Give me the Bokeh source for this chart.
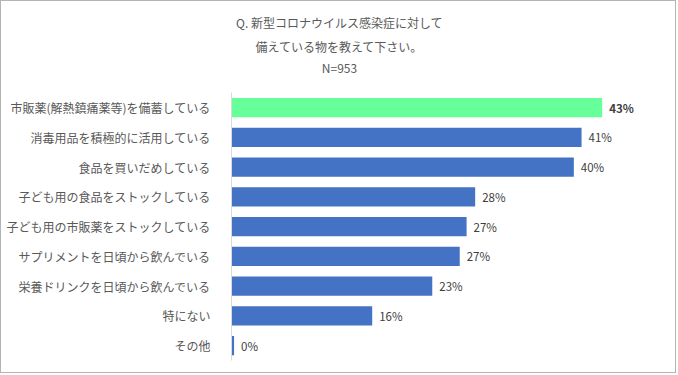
from bokeh.plotting import figure
from bokeh.models import Range1d, Label, ColumnDataSource, FixedTicker
from bokeh.embed import file_html
from bokeh.resources import INLINE
from bokeh.core.properties import value

categories = [
    "市販薬(解熱鎮痛薬等)を備蓄している",
    "消毒用品を積極的に活用している",
    "食品を買いだめしている",
    "子ども用の食品をストックしている",
    "子ども用の市販薬をストックしている",
    "サプリメントを日頃から飲んでいる",
    "栄養ドリンクを日頃から飲んでいる",
    "特にない",
    "その他",
]
values = [43.2, 40.8, 39.9, 28.4, 27.4, 26.6, 23.4, 16.4, 0.3]
labels = ["43%", "41%", "40%", "28%", "27%", "27%", "23%", "16%", "0%"]
title_lines = ["Q. 新型コロナウイルス感染症に対して", "備えている物を教えて下さい。", "N=953"]

FONT = "Noto Sans CJK JP"
n = len(categories)
ypos = [-i for i in range(n)]
colors = ["#66FF99"] + ["#4472C4"] * (n - 1)
weights = ["bold"] + ["normal"] * (n - 1)

src = ColumnDataSource(dict(y=ypos, val=values, lab=labels, color=colors, weight=weights))

# layout constants (pixels)
W, H = 676, 373
LEFT, RIGHT, TOP, BOTTOM = 230, 16, 0, 14
XSCALE = 8.58      # px per percent
YSCALE = 29.75     # px per row
frame_w = W - LEFT - RIGHT
frame_h = H - TOP - BOTTOM
y_start = -(n - 1) - 0.5
y_end = y_start + frame_h / YSCALE

p = figure(
    width=W, height=H,
    x_range=Range1d(0, frame_w / XSCALE),
    y_range=Range1d(y_start, y_end),
    output_backend="svg", toolbar_location=None,
    min_border_left=LEFT, min_border_right=RIGHT, min_border_top=TOP, min_border_bottom=BOTTOM,
)
p.styles = {"border": "1px solid #b4b4b4"}
p.outline_line_color = None
p.grid.visible = False
p.xaxis.visible = False

p.hbar(y="y", right="val", left=0, height=0.64, fill_color="color", line_color=None, source=src)
p.text(x="val", y="y", text="lab", source=src, x_offset=7, text_align="left",
       text_baseline="middle", text_font=value(FONT), text_font_size="11.5px",
       text_color="#404040", text_font_style="weight")

ax = p.yaxis[0]
ax.ticker = FixedTicker(ticks=ypos)
ax.major_label_overrides = {y: c for y, c in zip(ypos, categories)}
ax.bounds = (y_start, 0.5)
ax.major_tick_line_color = None
ax.minor_tick_line_color = None
ax.axis_line_color = "#d9d9d9"
ax.major_label_text_font = FONT
ax.major_label_text_font_size = "12px"
ax.major_label_text_color = "#595959"
ax.major_label_standoff = 15

title_cx = (339 - 1 - LEFT) / XSCALE
title_px = [22, 46, 67]
for t, py in zip(title_lines, title_px):
    p.add_layout(Label(x=title_cx, y=0.5 + (92 - py) / YSCALE, text=t,
                       text_align="center", text_baseline="middle", text_font=FONT,
                       text_font_size="12px", text_color="#595959"))

open("out.html", "w").write(file_html(p, INLINE))
